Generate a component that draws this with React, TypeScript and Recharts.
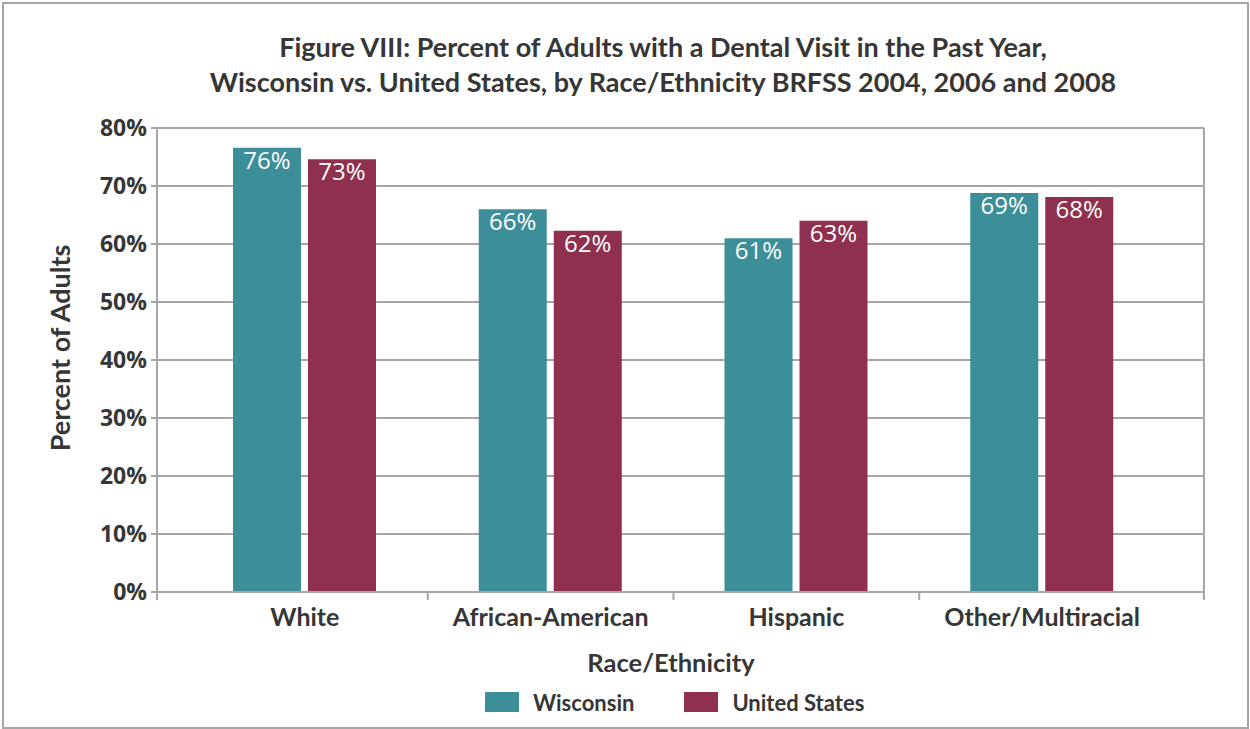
import React from 'react';
import { BarChart, Bar, XAxis, YAxis, CartesianGrid, LabelList } from 'recharts';

const categories = ['White', 'African-American', 'Hispanic', 'Other/Multiracial'];
const wisconsin = [76.6, 66.0, 61.0, 68.8];
const unitedStates = [74.6, 62.3, 64.0, 68.1];
const wisconsinLabels = ['76%', '66%', '61%', '69%'];
const unitedStatesLabels = ['73%', '62%', '63%', '68%'];
const yTicks = [0, 10, 20, 30, 40, 50, 60, 70, 80];

const series = [
  { key: 'wi', labelKey: 'wiLabel', name: 'Wisconsin', color: '#3c8e98' },
  { key: 'us', labelKey: 'usLabel', name: 'United States', color: '#8e304e' },
];

const data = categories.map((race, i) => ({
  race,
  wi: wisconsin[i],
  us: unitedStates[i],
  wiLabel: wisconsinLabels[i],
  usLabel: unitedStatesLabels[i],
}));

const W = 1250;
const H = 729;
const GRID = '#a6a6a6';
const TEXT = '#363636';
const WORD_FONT = 'Lato, "Open Sans", sans-serif';
const NUM_FONT = '"Open Sans", sans-serif';

// plot area: x 157..1204, y 128..592
const margin = { top: 128, right: 45, bottom: 77, left: 77 };
const padLeft = 25;
const padRight = 39;
const plotWidth = W - margin.left - 80 - margin.right - 1;
const band = (plotWidth - padLeft - padRight) / categories.length;
const TICK_SIZE = 8;
const TICK_MARGIN = 8;

function CategoryTick(props: any) {
  const { x, y, payload, index } = props;
  const axisY = y - TICK_SIZE - TICK_MARGIN;
  const marks = [x - band / 2 - (index === 0 ? padLeft : 0)];
  if (index === categories.length - 1) marks.push(x + band / 2 + padRight);
  return (
    <g>
      {marks.map((mx, i) => (
        <line key={i} x1={mx} x2={mx} y1={axisY} y2={axisY + TICK_SIZE} stroke={GRID} strokeWidth={2} />
      ))}
      <text
        x={x}
        y={y}
        dy="0.71em"
        textAnchor="middle"
        fill={TEXT}
        fontSize={25}
        fontWeight={700}
        fontFamily={WORD_FONT}
      >
        {payload.value}
      </text>
    </g>
  );
}

export default function App() {
  return (
    <div style={{ position: 'absolute', left: 0, top: 0, width: W, height: H, background: '#fff' }}>
      <div
        style={{
          position: 'absolute',
          left: 2,
          top: 2,
          width: W - 3,
          height: H - 2,
          border: `2px solid ${GRID}`,
          boxSizing: 'border-box',
        }}
      />
      <div
        style={{
          position: 'absolute',
          left: 63,
          top: 29,
          width: 1200,
          textAlign: 'center',
          fontFamily: WORD_FONT,
          fontWeight: 700,
          fontSize: 27,
          lineHeight: '35px',
          color: TEXT,
        }}
      >
        Figure VIII: Percent of Adults with a Dental Visit in the Past Year,
        <br />
        Wisconsin vs. United States, by Race/Ethnicity BRFSS 2004, 2006 and 2008
      </div>

      <BarChart width={W} height={H} data={data} margin={margin} barSize={68} barGap={7}>
        <CartesianGrid vertical={false} stroke={GRID} strokeWidth={2} />
        <XAxis
          dataKey="race"
          interval={0}
          padding={{ left: padLeft, right: padRight }}
          axisLine={{ stroke: GRID, strokeWidth: 2 }}
          tickLine={false}
          tickSize={TICK_SIZE}
          tickMargin={TICK_MARGIN}
          height={60}
          tick={<CategoryTick />}
        />
        <YAxis
          width={80}
          domain={[0, 80]}
          ticks={yTicks}
          interval={0}
          tickFormatter={(v: number) => `${v}%`}
          axisLine={{ stroke: GRID, strokeWidth: 2 }}
          tickLine={{ stroke: GRID, strokeWidth: 2 }}
          tickSize={6}
          tickMargin={4}
          tick={{ fill: TEXT, fontSize: 23, fontWeight: 700, fontFamily: NUM_FONT }}
        />
        <YAxis
          yAxisId="r"
          orientation="right"
          width={1}
          tick={false}
          tickLine={false}
          axisLine={{ stroke: GRID, strokeWidth: 2 }}
        />
        {series.map((s) => (
          <Bar key={s.key} dataKey={s.key} name={s.name} fill={s.color} isAnimationActive={false}>
            <LabelList
              dataKey={s.labelKey}
              position="insideTop"
              offset={4}
              fill="#ffffff"
              fontSize={24}
              fontFamily={NUM_FONT}
            />
          </Bar>
        ))}
      </BarChart>

      <div
        style={{
          position: 'absolute',
          left: 59,
          top: 348,
          transform: 'translate(-50%, -50%) rotate(-90deg)',
          whiteSpace: 'nowrap',
          fontFamily: WORD_FONT,
          fontWeight: 700,
          fontSize: 27,
          color: TEXT,
        }}
      >
        Percent of Adults
      </div>
      <div
        style={{
          position: 'absolute',
          left: 671,
          top: 650,
          transform: 'translateX(-50%)',
          whiteSpace: 'nowrap',
          fontFamily: WORD_FONT,
          fontWeight: 700,
          fontSize: 25.5,
          lineHeight: '25px',
          color: TEXT,
        }}
      >
        Race/Ethnicity
      </div>

      <div
        style={{
          position: 'absolute',
          left: 485,
          top: 690,
          height: 24,
          display: 'flex',
          alignItems: 'center',
          gap: 50,
          fontFamily: WORD_FONT,
          fontWeight: 700,
          fontSize: 22,
          color: TEXT,
        }}
      >
        {series.map((s) => (
          <div key={s.key} style={{ display: 'flex', alignItems: 'center', gap: 14 }}>
            <div style={{ width: 34, height: 20, background: s.color }} />
            <span>{s.name}</span>
          </div>
        ))}
      </div>
    </div>
  );
}
